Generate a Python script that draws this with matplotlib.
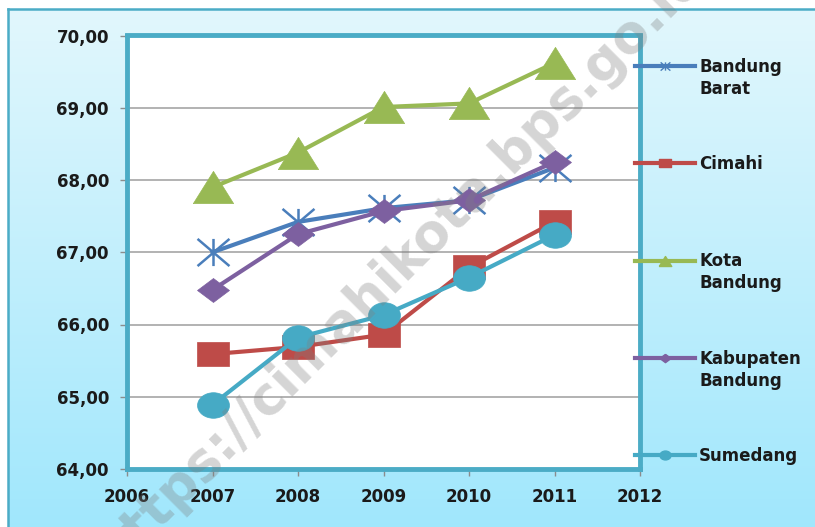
import numpy as np
import matplotlib
matplotlib.use('Agg')
import matplotlib.pyplot as plt
from matplotlib.path import Path
from matplotlib.transforms import Affine2D
from matplotlib.lines import Line2D

years = [2007, 2008, 2009, 2010, 2011]
bandung_barat = [67.00, 67.42, 67.61, 67.72, 68.17]
cimahi = [65.59, 65.69, 65.86, 66.79, 67.42]
kota_bandung = [67.90, 68.38, 69.01, 69.06, 69.62]
kab_bandung = [66.48, 67.25, 67.57, 67.72, 68.25]
sumedang = [64.89, 65.82, 66.13, 66.65, 67.24]

names = ['Bandung Barat', 'Cimahi', 'Kota Bandung', 'Kabupaten Bandung', 'Sumedang']
colors = ['#4a7ebb', '#be4b48', '#98b954', '#7d60a0', '#46aac5']

# markers (a bit wider than tall, like the source)
tri = Path([(-1, -0.8), (1, -0.8), (0, 0.8), (-1, -0.8)])
sq = Path([(-1, -0.78), (1, -0.78), (1, 0.78), (-1, 0.78), (-1, -0.78)])
circ = Path.unit_circle().transformed(Affine2D().scale(1, 0.8))
dia = Path([(0, 0.75), (1, 0), (0, -0.75), (-1, 0), (0, 0.75)])
star = Path([(0, -0.85), (0, 0.85), (-1, -0.85), (1, 0.85), (-1, 0.85), (1, -0.85)],
            [Path.MOVETO, Path.LINETO] * 3)
markers = [star, sq, tri, dia, circ]
msizes = [23, 23, 29, 23, 23]

W, H = 815, 527
fig = plt.figure(figsize=(W / 100, H / 100), dpi=100)

# background panel with gradient
bg = fig.add_axes([8 / W, -0.01, 1, (H - 9) / H + 0.01], zorder=-2)
grad = np.linspace(0, 1, 256).reshape(-1, 1)
top = np.array([0xe2, 0xf7, 0xfd]) / 255
bot = np.array([0xa0, 0xe7, 0xfc]) / 255
img = top[None, None, :] * (1 - grad[:, :, None]) + bot[None, None, :] * grad[:, :, None]
bg.imshow(img, aspect='auto', extent=[0, 1, 0, 1])
bg.set_xticks([])
bg.set_yticks([])
for s in ['right', 'bottom']:
    bg.spines[s].set_visible(False)
for s in ['left', 'top']:
    bg.spines[s].set_color('#4bacc6')
    bg.spines[s].set_linewidth(1.8)

ax = fig.add_axes([127 / W, 58 / H, (640 - 127) / W, (469 - 35.5) / H])
ax.set_facecolor('white')

series = [bandung_barat, cimahi, kota_bandung, kab_bandung, sumedang]
for vals, c, m, ms in zip(series, colors, markers, msizes):
    if m is star:
        ax.plot(years, vals, color=c, lw=3, marker=m, ms=ms, mfc='none', mec=c, mew=1.8,
                clip_on=False, zorder=3)
    else:
        ax.plot(years, vals, color=c, lw=3, marker=m, ms=ms, mfc=c, mec=c, mew=0.5,
                clip_on=False, zorder=3)

ax.set_xlim(2006, 2012)
ax.set_ylim(64, 70)
ax.set_xticks(range(2006, 2013))
ax.set_yticks(range(64, 71))
ax.yaxis.set_major_formatter(lambda v, p: ('%.2f' % v).replace('.', ','))
ax.grid(axis='y', color='#a6a6a6', lw=1.2)
ax.set_axisbelow(True)
for s in ax.spines.values():
    s.set_color('#4bacc6')
    s.set_linewidth(3.5)
ax.tick_params(direction='out', length=5, width=1, color='#8c8c8c', labelsize=12,
               labelcolor='#1a1a1a')
ax.tick_params(axis='x', pad=9)
ax.tick_params(axis='y', pad=8)
for lab in ax.get_xticklabels() + ax.get_yticklabels():
    lab.set_fontweight('bold')

# legend
handles = []
small = [7, 8, 9, 8, 8]
for c, m, ms in zip(colors, markers, small):
    if m is star:
        handles.append(Line2D([], [], color=c, lw=3, marker=m, ms=ms, mfc='none', mec=c, mew=1))
    else:
        handles.append(Line2D([], [], color=c, lw=3, marker=m, ms=ms, mfc=c, mec=c))
first = ['Bandung', 'Cimahi', 'Kota', 'Kabupaten', 'Sumedang']
leg = fig.legend(handles, first, loc='upper left', bbox_to_anchor=(635 / W, (H - 58) / H),
                 frameon=False, handlelength=3.6, handletextpad=0.25, labelspacing=4.75,
                 borderpad=0, borderaxespad=0, prop={'weight': 'bold', 'size': 12})
for t in leg.get_texts():
    t.set_color('#1a1a1a')

fig.canvas.draw()
second = {0: 'Barat', 2: 'Bandung', 3: 'Bandung'}
for i, txt in second.items():
    bb = leg.get_texts()[i].get_window_extent()
    fig.text(bb.x0 / W, (bb.y0 - 22) / H, txt, fontsize=12, fontweight='bold',
             color='#1a1a1a', ha='left', va='bottom')

# watermark
fig.text(400 / W, 1 - 264 / H, 'https://cimahikota.bps.go.id', rotation=45,
         rotation_mode='anchor', ha='center', va='center', fontsize=38,
         fontweight='bold', color='#7f7f7f', alpha=0.33, zorder=10)

fig.savefig('out.png', dpi=100)
